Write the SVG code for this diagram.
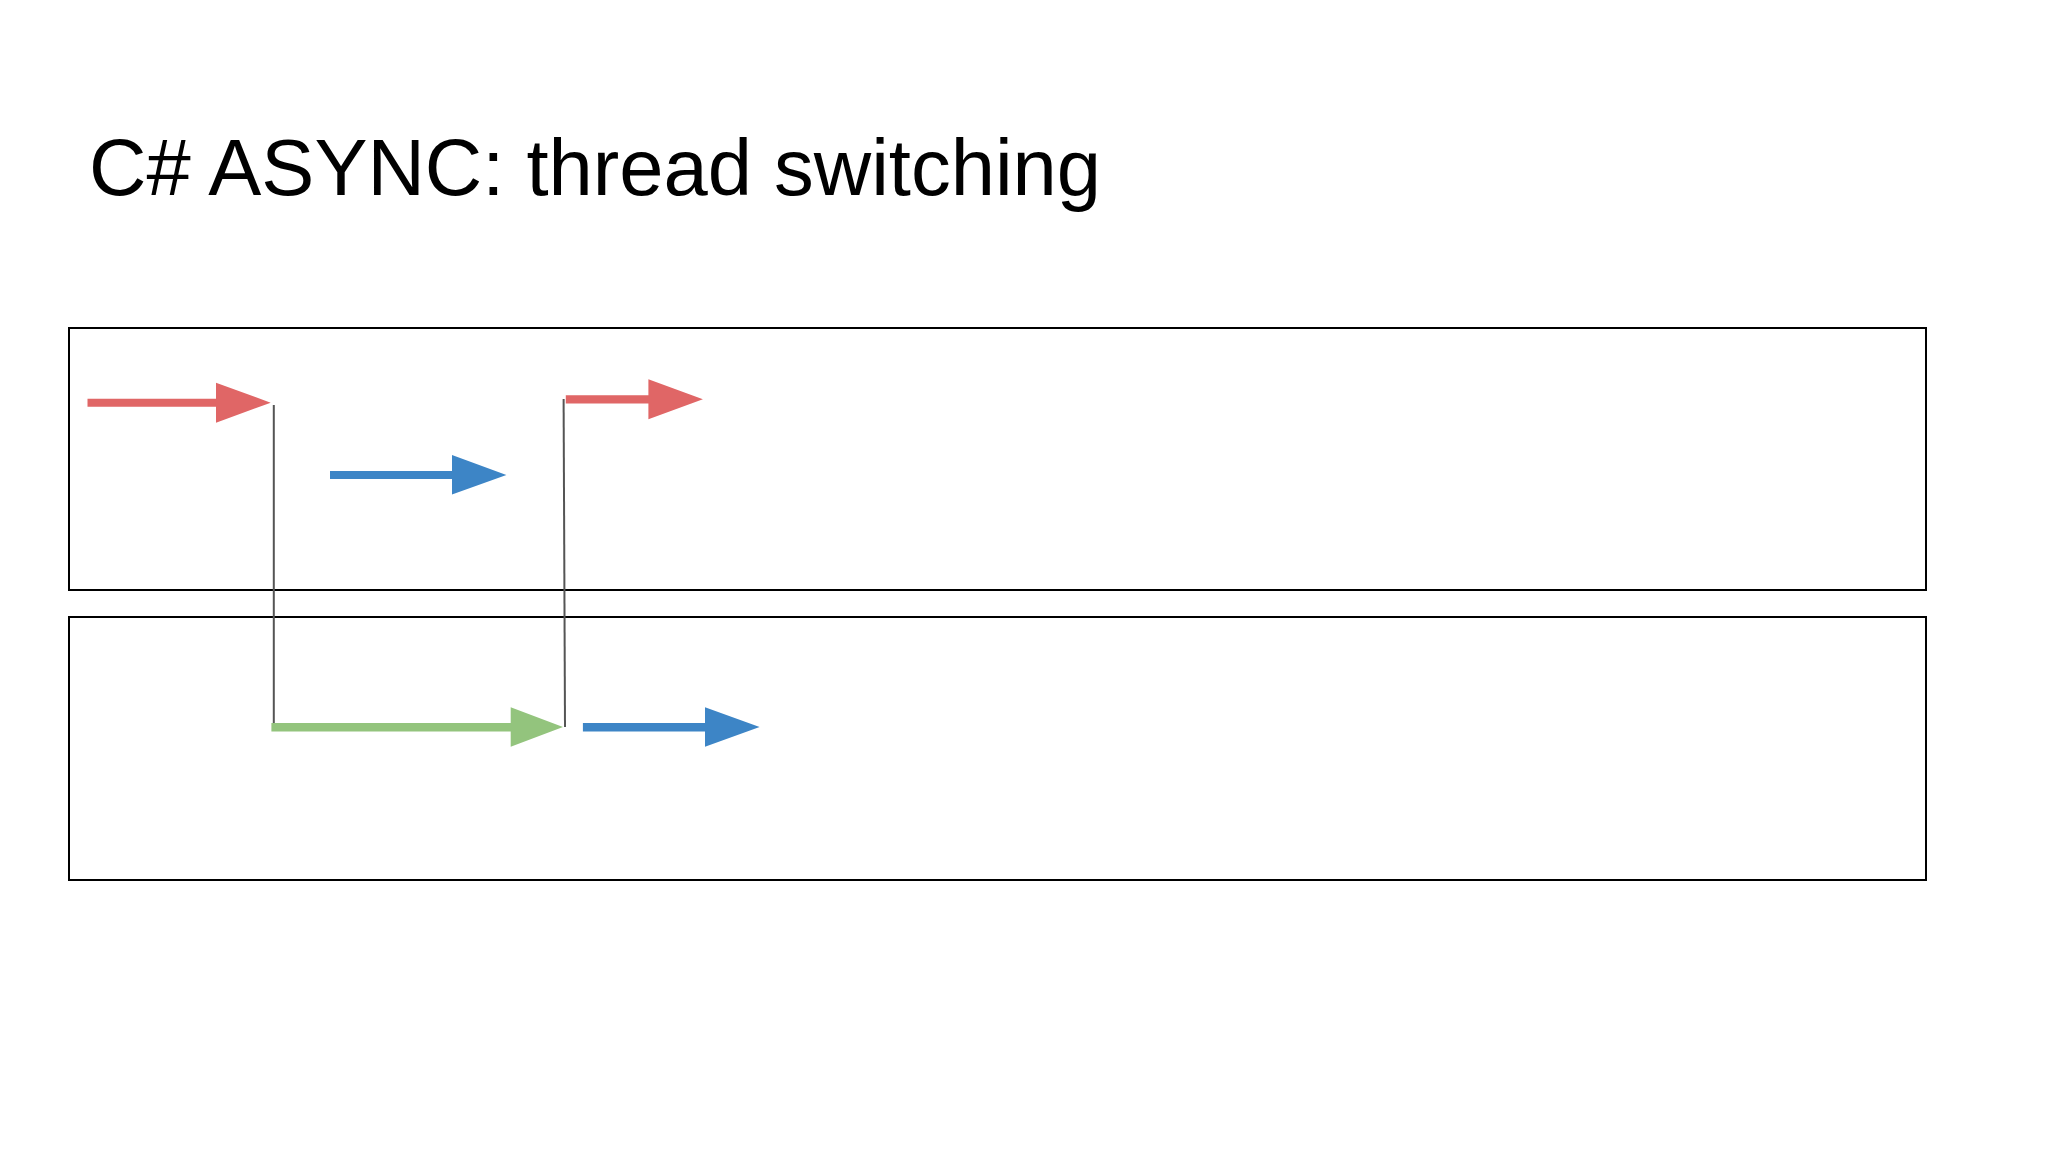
<svg xmlns="http://www.w3.org/2000/svg" width="2048" height="1152" viewBox="0 0 2048 1152">
<style>
.title{font-family:"Liberation Sans",Arial,sans-serif;font-size:80px;fill:#000}
.lane{fill:none;stroke:#000;stroke-width:2}
.vline{stroke:#555;stroke-width:2;fill:none}
.red{fill:#E06666}
.blue{fill:#3D85C6}
.green{fill:#93C47D}
</style>
<rect width="2048" height="1152" fill="#fff"/>
<text class="title" x="89" y="195" textLength="1012" lengthAdjust="spacingAndGlyphs">C# ASYNC: thread switching</text>
<g id="thread1"><rect class="lane" x="69" y="328" width="1857" height="262"/></g>
<g id="thread2"><rect class="lane" x="69" y="617" width="1857" height="263"/></g>
<g id="connectors">
<line class="vline" x1="273.8" y1="405" x2="273.8" y2="724"/>
<line class="vline" x1="563.6" y1="399" x2="565" y2="727"/>
</g>
<g id="red-arrow-1"><polygon class="red" points="87.5,398.7 216,398.7 216,382.7 270.7,402.7 216,422.7 216,406.7 87.5,406.7"/></g>
<g id="blue-arrow-1"><polygon class="blue" points="330,471 452,471 452,455 506.4,475 452,494.5 452,479 330,479"/></g>
<g id="red-arrow-2"><polygon class="red" points="565.8,395.3 648.4,395.3 648.4,379.3 702.9,399.3 648.4,419.3 648.4,403.5 565.8,403.5"/></g>
<g id="green-arrow"><polygon class="green" points="271.4,723 510.7,723 510.7,707.3 563,727 510.7,746.7 510.7,731.5 271.4,731.5"/></g>
<g id="blue-arrow-2"><polygon class="blue" points="582.9,723 705,723 705,707.3 759.6,727 705,746.7 705,731.5 582.9,731.5"/></g>
</svg>
